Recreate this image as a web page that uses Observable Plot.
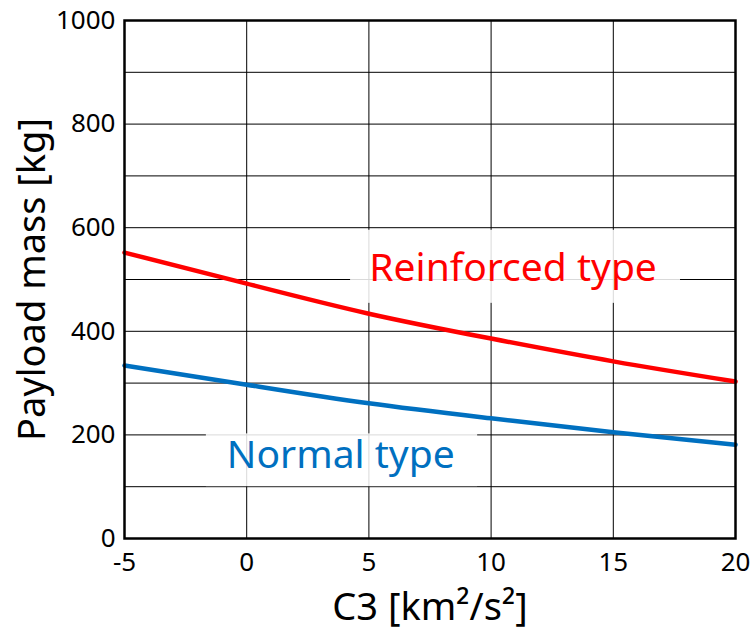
<!DOCTYPE html>
<html>
<head>
<meta charset="utf-8">
<script src="https://cdn.jsdelivr.net/npm/d3@7"></script>
<script src="https://cdn.jsdelivr.net/npm/@observablehq/plot@0.6"></script>
<style>
  body { margin: 0; background: #fff; }
  #chart svg { display: block; }
</style>
</head>
<body>
<div id="chart"></div>
<script>
const c3 = [-5, 0, 5, 10, 15, 20];
const reinforced = [552, 492, 434, 386, 342, 303];
const normal = [334, 297, 261, 232, 205, 181];

const xTicks = [-5, 0, 5, 10, 15, 20];
const yTicks = [0, 200, 400, 600, 800, 1000];
const yGrid = [100, 200, 300, 400, 500, 600, 700, 800, 900];

const labelText = ["Reinforced type", "Normal type"];
const labelX = [10.9, 3.85];
const labelY = [521, 160];
const boxX1 = [4.25, -1.65];
const boxX2 = [17.75, 9.45];
const boxY1 = [454, 100];
const boxY2 = [595, 202];
const labelColor = ["#ff0000", "#0070c0"];

const rows = [];
c3.forEach((x, i) => {
  rows.push({x, y: reinforced[i], s: "Reinforced type"});
  rows.push({x, y: normal[i], s: "Normal type"});
});
const labels = labelText.map((t, i) => ({
  t, x: labelX[i], y: labelY[i], x1: boxX1[i], x2: boxX2[i], y1: boxY1[i], y2: boxY2[i], c: labelColor[i]
}));

const font = "'Noto Sans', 'Open Sans', sans-serif";

const chart = Plot.plot({
  width: 754,
  height: 632,
  marginLeft: 124,
  marginRight: 19,
  marginTop: 20,
  marginBottom: 94,
  style: {fontFamily: font, background: "#fff", color: "#000"},
  x: {domain: [-5, 20]},
  y: {domain: [0, 1000]},
  marks: [
    Plot.gridX(xTicks, {stroke: "#000", strokeOpacity: 1, strokeWidth: 1}),
    Plot.gridY(yGrid, {stroke: "#000", strokeOpacity: 1, strokeWidth: 1}),
    Plot.line(rows.filter(d => d.s === "Reinforced type"), {x: "x", y: "y", stroke: "#ff0000", strokeWidth: 4.5, curve: "natural"}),
    Plot.line(rows.filter(d => d.s === "Normal type"), {x: "x", y: "y", stroke: "#0070c0", strokeWidth: 4.5, curve: "natural"}),
    Plot.rect(labels, {x1: "x1", x2: "x2", y1: "y1", y2: "y2", fill: "#fff", fillOpacity: 0.85}),
    Plot.text(labels, {x: "x", y: "y", text: "t", fill: "c", fontSize: 39, textAnchor: "middle", lineAnchor: "middle"}),
    Plot.frame({stroke: "#000", strokeWidth: 2.5}),
    Plot.axisX(xTicks, {tickSize: 0, tickPadding: 14, fontSize: 26, label: null, tickFormat: d => String(d)}),
    Plot.axisY(yTicks, {tickSize: 0, tickPadding: 9, fontSize: 26, label: null, tickFormat: d => String(d)}),
    Plot.text(["Payload mass [kg]"], {frameAnchor: "left", dx: -92, rotate: -90, fontSize: 38, textAnchor: "middle", lineAnchor: "middle", fill: "#000"}),
    Plot.text(["C3 [km²/s²]"], {frameAnchor: "bottom", dy: 69, fontSize: 38, textAnchor: "middle", lineAnchor: "middle", fill: "#000"})
  ]
});
document.getElementById("chart").appendChild(chart);
</script>
</body>
</html>
